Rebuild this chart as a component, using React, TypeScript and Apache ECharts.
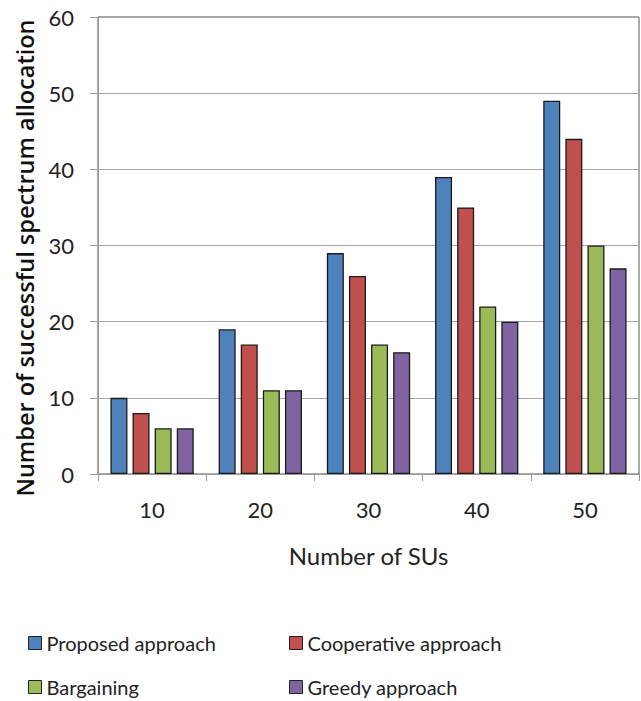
import React, { useEffect, useRef } from "react";
import * as echarts from "echarts";

const categories = ["10", "20", "30", "40", "50"];
const proposed = [10, 19, 29, 39, 49];
const cooperative = [8, 17, 26, 35, 44];
const bargaining = [6, 11, 17, 22, 30];
const greedy = [6, 11, 16, 20, 27];

const seriesNames = ["Proposed approach", "Cooperative approach", "Bargaining", "Greedy approach"];
const seriesColors = ["#4F81BD", "#C0504D", "#9BBB59", "#8064A2"];
const seriesData = [proposed, cooperative, bargaining, greedy];

const FONT = "Lato, 'Open Sans', sans-serif";

const legendBase = {
  orient: "vertical",
  top: 632,
  height: 70,
  padding: 0,
  icon: "rect",
  itemWidth: 13,
  itemHeight: 13,
  itemGap: 22,
  textStyle: { fontSize: 20, color: "#222", fontFamily: FONT, lineHeight: 22 },
  itemStyle: { borderColor: "#222", borderWidth: 1 },
};

export default function App() {
  const ref = useRef<HTMLDivElement>(null);

  useEffect(() => {
    if (!ref.current) return;
    const chart = echarts.init(ref.current, undefined, { renderer: "svg" });
    chart.setOption({
      animation: false,
      backgroundColor: "#ffffff",
      textStyle: { fontFamily: FONT },
      grid: {
        left: 98,
        right: 2,
        top: 17,
        bottom: 227,
        show: true,
        borderColor: "#555555",
        borderWidth: 1,
        backgroundColor: "transparent",
      },
      xAxis: {
        type: "category",
        data: categories,
        name: "Number of SUs",
        nameLocation: "middle",
        nameGap: 69,
        nameTextStyle: { fontSize: 24, color: "#222", fontFamily: FONT },
        axisLine: { lineStyle: { color: "#9a9a9a", width: 1 } },
        axisTick: { show: true, length: 7, lineStyle: { color: "#9a9a9a" } },
        axisLabel: { fontSize: 22, color: "#222", margin: 24, fontFamily: FONT },
      },
      yAxis: {
        type: "value",
        min: 0,
        max: 60,
        interval: 10,
        axisLine: { show: true, lineStyle: { color: "#9a9a9a", width: 1 } },
        axisTick: { show: true, length: 8, lineStyle: { color: "#9a9a9a" } },
        axisLabel: { fontSize: 22, color: "#222", margin: 24, fontFamily: FONT },
        splitLine: { lineStyle: { color: "#a6a6a6", width: 1 } },
      },
      legend: [
        { ...legendBase, left: 28, data: [seriesNames[0], seriesNames[2]] },
        { ...legendBase, left: 289, data: [seriesNames[1], seriesNames[3]] },
      ],
      graphic: [
        {
          type: "text",
          x: 25,
          y: 258,
          rotation: Math.PI / 2,
          style: {
            text: "Number of successful spectrum allocation",
            font: "600 23.5px 'Open Sans', sans-serif",
            fill: "#111",
            align: "center",
            verticalAlign: "middle",
          },
        },
      ],
      series: seriesNames.map((name, i) => ({
        name,
        type: "bar",
        data: seriesData[i],
        barCategoryGap: "23%",
        barGap: "30%",
        itemStyle: {
          color: seriesColors[i],
          borderColor: "#1a1a1a",
          borderWidth: 1.3,
        },
      })),
    });
    return () => chart.dispose();
  }, []);

  return (
    <div
      ref={ref}
      style={{ position: "fixed", left: 0, top: 0, width: 641, height: 701 }}
    />
  );
}
